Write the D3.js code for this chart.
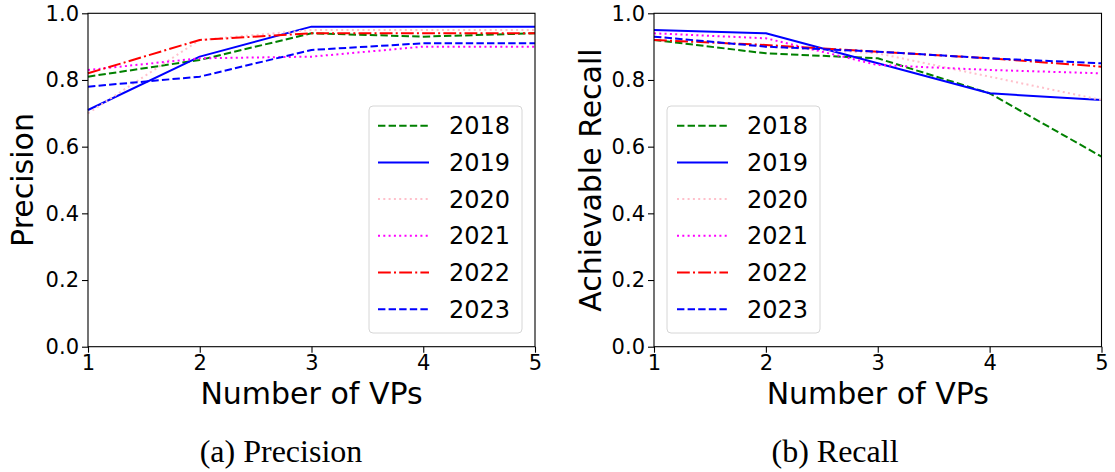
<!DOCTYPE html>
<html>
<head>
<meta charset="utf-8">
<script src="https://cdn.jsdelivr.net/npm/d3@7"></script>
<style>
  html, body { margin: 0; padding: 0; background: #fff; }
  svg { display: block; }
  text { fill: #000; }
</style>
</head>
<body>
<svg id="chart" width="1115" height="472"></svg>
<script>
// Number of vantage points on the x axis
const vps = [1, 2, 3, 4, 5];
const years = ["2018", "2019", "2020", "2021", "2022", "2023"];
const yTicks = [0.0, 0.2, 0.4, 0.6, 0.8, 1.0];

// Precision per year
const precision2018 = [0.81, 0.86, 0.94, 0.93, 0.94];
const precision2019 = [0.71, 0.87, 0.96, 0.96, 0.96];
const precision2020 = [0.70, 0.92, 0.95, 0.95, 0.95];
const precision2021 = [0.83, 0.865, 0.87, 0.90, 0.90];
const precision2022 = [0.82, 0.92, 0.94, 0.94, 0.94];
const precision2023 = [0.78, 0.81, 0.89, 0.91, 0.91];

// Achievable recall per year
const recall2018 = [0.92, 0.88, 0.865, 0.76, 0.57];
const recall2019 = [0.95, 0.94, 0.85, 0.76, 0.74];
const recall2020 = [0.93, 0.90, 0.88, 0.81, 0.74];
const recall2021 = [0.94, 0.925, 0.845, 0.83, 0.82];
const recall2022 = [0.92, 0.905, 0.885, 0.865, 0.84];
const recall2023 = [0.93, 0.90, 0.885, 0.865, 0.85];

const precisionSeries = [precision2018, precision2019, precision2020, precision2021, precision2022, precision2023];
const recallSeries = [recall2018, recall2019, recall2020, recall2021, recall2022, recall2023];

// Line styles (matplotlib-like): colour and dash pattern per year
const styles = [
  { color: "green",   dash: "7.4,3.2" },
  { color: "blue",    dash: null },
  { color: "pink",    dash: "2,3.3" },
  { color: "magenta", dash: "2,3.3" },
  { color: "red",     dash: "12.8,3.2,2,3.2" },
  { color: "blue",    dash: "7.4,3.2" }
];

const SANS = "'DejaVu Sans', sans-serif";
const SERIF = "'Liberation Serif', 'DejaVu Serif', serif";

const svg = d3.select("#chart");

function drawPanel(opts) {
  const { left, right, top, bottom, series, yLabel, yLabelX, legendX, legendLineX, legendTextX, caption, captionX } = opts;

  const x = d3.scaleLinear().domain([1, 5]).range([left, right]);
  const y = d3.scaleLinear().domain([0, 1]).range([bottom, top]);

  const g = svg.append("g");

  // Data lines
  const line = d3.line().x((d, i) => x(vps[i])).y(d => y(d));
  series.forEach((vals, k) => {
    const p = g.append("path")
      .datum(vals)
      .attr("d", line)
      .attr("fill", "none")
      .attr("stroke", styles[k].color)
      .attr("stroke-width", 2)
      .attr("stroke-linejoin", "round");
    if (styles[k].dash) p.attr("stroke-dasharray", styles[k].dash);
  });

  // Frame
  g.append("rect")
    .attr("x", left).attr("y", top)
    .attr("width", right - left).attr("height", bottom - top)
    .attr("fill", "none").attr("stroke", "#000").attr("stroke-width", 1.1);

  // Axes
  const xAxis = d3.axisBottom(x).tickValues(vps).tickFormat(d3.format("d")).tickSize(6).tickSizeOuter(0).tickPadding(2);
  const gx = g.append("g").attr("transform", `translate(0,${bottom})`).call(xAxis);
  const yAxis = d3.axisLeft(y).tickValues(yTicks).tickFormat(d3.format(".1f")).tickSize(6).tickSizeOuter(0).tickPadding(3);
  const gy = g.append("g").attr("transform", `translate(${left},0)`).call(yAxis);
  [gx, gy].forEach(ax => {
    ax.select(".domain").remove();
    ax.selectAll(".tick line").attr("stroke", "#000").attr("stroke-width", 1.1);
    ax.selectAll(".tick text")
      .style("font-family", SANS).style("font-size", "21px").attr("fill", "#000");
  });

  // Axis titles
  g.append("text")
    .attr("x", (left + right) / 2).attr("y", 404)
    .attr("text-anchor", "middle")
    .style("font-family", SANS).style("font-size", "30px")
    .text("Number of VPs");
  g.append("text")
    .attr("transform", `translate(${yLabelX},${(top + bottom) / 2}) rotate(-90)`)
    .attr("text-anchor", "middle")
    .style("font-family", SANS).style("font-size", "30px")
    .text(yLabel);

  // Legend
  const lg = g.append("g");
  lg.append("rect")
    .attr("x", legendX).attr("y", 106)
    .attr("width", 153).attr("height", 227)
    .attr("rx", 4).attr("ry", 4)
    .attr("fill", "rgba(255,255,255,0.8)")
    .attr("stroke", "#d6d6d6").attr("stroke-width", 1);
  years.forEach((yr, k) => {
    const cy = 125.7 + k * 36.7;
    const l = lg.append("line")
      .attr("x1", legendLineX).attr("x2", legendLineX + 51)
      .attr("y1", cy).attr("y2", cy)
      .attr("stroke", styles[k].color).attr("stroke-width", 2);
    if (styles[k].dash) l.attr("stroke-dasharray", styles[k].dash);
    lg.append("text")
      .attr("x", legendTextX).attr("y", cy + 8.5)
      .style("font-family", SANS).style("font-size", "24px")
      .text(yr);
  });

  // Sub-figure caption
  svg.append("text")
    .attr("x", captionX).attr("y", 462)
    .attr("text-anchor", "middle")
    .style("font-family", SERIF).style("font-size", "32px")
    .text(caption);
}

drawPanel({
  left: 88, right: 535, top: 13.3, bottom: 346.7,
  series: precisionSeries, yLabel: "Precision", yLabelX: 33,
  legendX: 369, legendLineX: 378, legendTextX: 449,
  caption: "(a) Precision", captionX: 281
});

drawPanel({
  left: 654, right: 1101.5, top: 13.3, bottom: 346.7,
  series: recallSeries, yLabel: "Achievable Recall", yLabelX: 601,
  legendX: 667, legendLineX: 677, legendTextX: 747,
  caption: "(b) Recall", captionX: 835
});
</script>
</body>
</html>
